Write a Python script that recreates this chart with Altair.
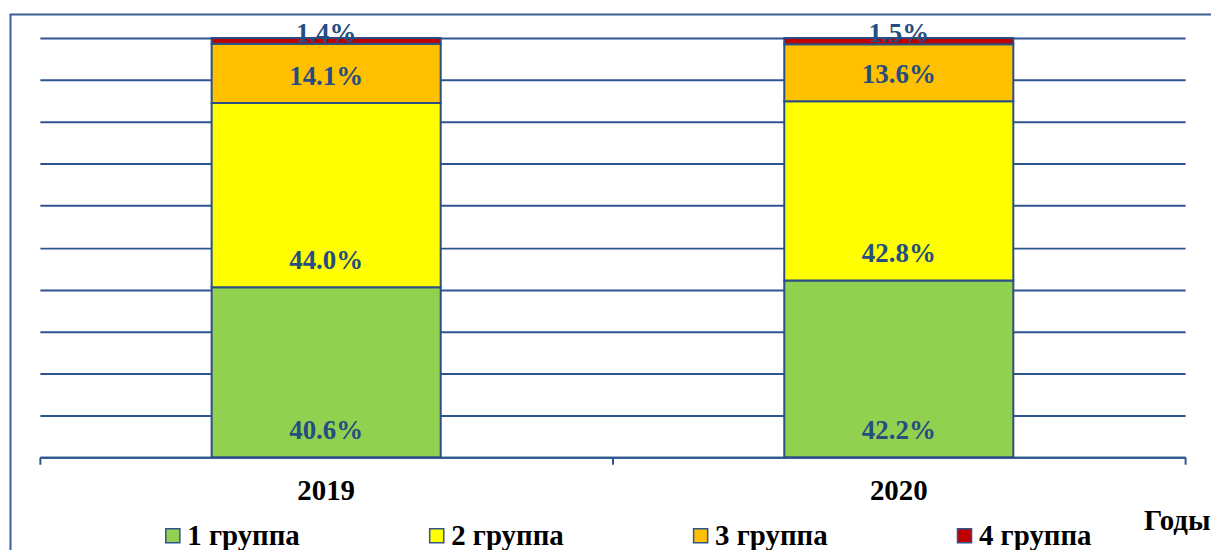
import altair as alt
import pandas as pd

years = ["2019", "2020"]
groups = ["1 группа", "2 группа", "3 группа", "4 группа"]
v2019 = [40.6, 44.0, 14.1, 1.4]
v2020 = [42.2, 42.8, 13.6, 1.5]
colors = ["#92D050", "#FFFF00", "#FFC000", "#C00000"]
grid_vals = [0, 0.1, 0.2, 0.3, 0.4, 0.5, 0.6, 0.7, 0.8, 0.9, 1.0]

rows = []
for yr, vals in zip(years, [v2019, v2020]):
    for gi, (g, v) in enumerate(zip(groups, vals)):
        rows.append({"year": yr, "group": g, "gi": gi, "value": v, "label": f"{v:.1f}%"})
df = pd.DataFrame(rows)

BLUE = "#2F5590"
LBL = "#254D80"
FONT = "Liberation Serif"
W, H = 1150, 421

base = alt.Chart(df).transform_stack(
    stack="value", groupby=["year"], as_=["y0", "y1"],
    sort=[alt.SortField("gi", order="ascending")], offset="normalize"
)

xscale = alt.Scale(paddingInner=0.6, paddingOuter=0.3)
xaxis = alt.Axis(
    orient="bottom",
    title="Годы", titleFont=FONT, titleFontSize=29, titleFontWeight="bold",
    titleColor="black", titleX=W + 25, titleY=64, titleAlign="right",
    titleBaseline="middle", titleAngle=0,
    labelFont=FONT, labelFontSize=29, labelFontWeight="bold", labelColor="black",
    labelPadding=19, labelAngle=0,
    domainColor=BLUE, domainWidth=2, ticks=False,
)
yscale = alt.Scale(domain=[0, 1], nice=False)
yaxis = alt.Axis(values=grid_vals, grid=True, gridColor=BLUE, gridWidth=2,
                 domain=False, ticks=False, labels=False, title=None)

bars = base.mark_bar(stroke="#2A4F85", strokeWidth=2).encode(
    x=alt.X("year:N", sort=years, scale=xscale, axis=xaxis),
    y=alt.Y("y0:Q", scale=yscale, axis=yaxis),
    y2="y1:Q",
    color=alt.Color(
        "group:N",
        scale=alt.Scale(domain=groups, range=colors),
        legend=alt.Legend(
            title=None, orient="none", direction="horizontal", columns=4,
            legendX=119, legendY=485, padding=0,
            symbolType="square", symbolSize=200, symbolStrokeColor=BLUE,
            symbolStrokeWidth=1.5, symbolOpacity=1,
            labelFont=FONT, labelFontSize=29, labelFontWeight="bold",
            labelColor="black", labelOffset=0, columnPadding=122,
            labelLimit=300,
        ),
    ),
    order=alt.Order("gi:Q"),
)

texts = base.transform_calculate(
    ly="datum.y1 - datum.y0 < 0.05 ? datum.y1 + 0.01 : datum.y0 + 0.062"
).mark_text(
    font=FONT, fontSize=27, fontWeight="bold", color=LBL, baseline="middle", align="center"
).encode(
    x=alt.X("year:N", sort=years, scale=xscale, axis=xaxis),
    y=alt.Y("ly:Q", scale=yscale, axis=yaxis),
    text="label:N",
)

# category boundary ticks on the x axis (between the year bands)
bounds = pd.DataFrame({"t": [0, len(years)]})
ticks = alt.Chart(bounds).mark_point(opacity=0).encode(
    x=alt.X(
        "t:Q",
        scale=alt.Scale(domain=[0, len(years)], nice=False, zero=False),
        axis=alt.Axis(orient="bottom", values=list(range(len(years) + 1)),
                      labels=False, domain=False, grid=False, title=None,
                      ticks=True, tickSize=7, tickColor=BLUE, tickWidth=2),
    ),
)

frame = alt.Chart(pd.DataFrame({"a": [0]})).mark_rect(
    fill="transparent", stroke="#3A6096", strokeWidth=2
).encode(
    x=alt.value(-29.5), x2=alt.value(W + 80),
    y=alt.value(-23.5), y2=alt.value(H + 200),
)

main = alt.layer(frame, bars, texts)

chart = alt.layer(main, ticks).resolve_scale(
    x="independent"
).properties(
    width=W, height=H,
    autosize=alt.AutoSizeParams(type="none"),
    padding={"left": 32, "top": 29, "right": 26, "bottom": 92},
    background="white",
).configure_view(stroke=None)

chart.save("out.html", embed_options={"renderer": "svg", "actions": False})
